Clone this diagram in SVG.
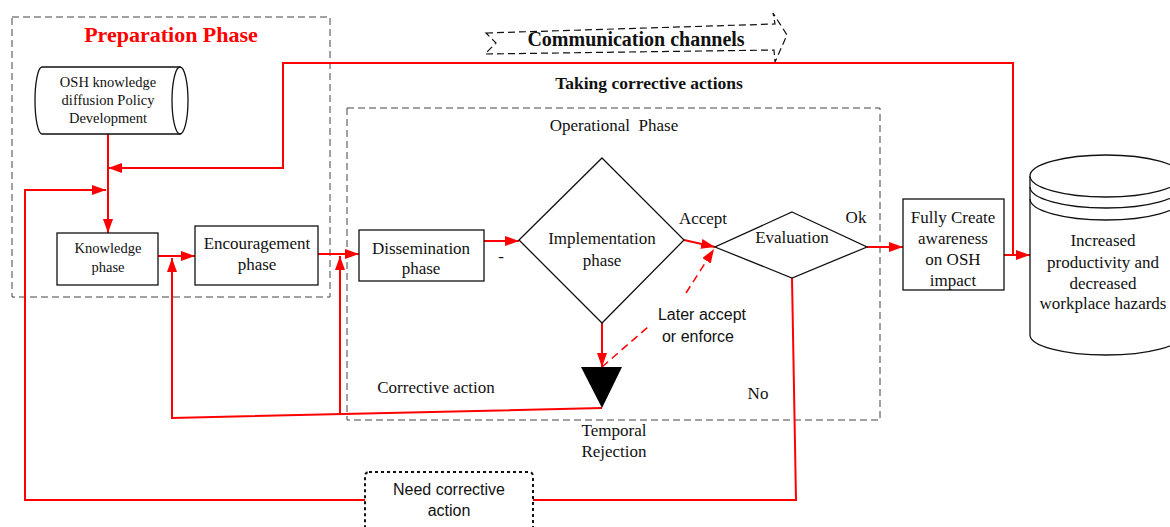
<svg xmlns="http://www.w3.org/2000/svg" width="1170" height="527" viewBox="0 0 1170 527">
<style>
.t{font-family:"Liberation Serif","Times New Roman",serif;font-size:17px;fill:#111;text-anchor:middle}
.s{font-family:"Liberation Sans",Arial,sans-serif;font-size:16px;fill:#111;text-anchor:middle}
.b{font-weight:bold}
.box{fill:#fff;stroke:#111;stroke-width:1.3}
.zone{fill:none;stroke:#444;stroke-width:1;stroke-dasharray:7 4}
.r{fill:none;stroke:#f00;stroke-width:2}
.rd{fill:none;stroke:#f00;stroke-width:1.5;stroke-dasharray:8 5}
</style>
<defs>
<marker id="ah" viewBox="0 0 14 10" refX="14" refY="5" markerWidth="14" markerHeight="10" orient="auto" markerUnits="userSpaceOnUse">
<path d="M0,0 L14,5 L0,10 z" fill="#f00"/>
</marker>
</defs>
<rect width="1170" height="527" fill="#fff"/>

<g id="zones">
<rect class="zone" x="12" y="17" width="318" height="280"/>
<rect class="zone" x="347" y="108" width="533" height="312"/>
</g>

<g id="titles">
<text class="t b" x="171" y="42" style="font-size:22px;fill:#f00">Preparation Phase</text>
<text class="t b" x="649" y="89" style="font-size:17.5px">Taking corrective actions</text>
<text class="t" x="614" y="131">Operational&#160; Phase</text>
</g>

<g id="comm">
<polygon points="486,33 775,24 773,13 787,35 775,62 774,50 485,54 496,43" fill="none" stroke="#111" stroke-width="1.2" stroke-dasharray="7 4"/>
<text class="t b" x="636" y="46" style="font-size:20px">Communication channels</text>
</g>

<g id="connectors">
<path class="r" d="M108,134 V233" marker-end="url(#ah)"/>
<path class="r" d="M1013,255 V63 H283 V168 H108" marker-end="url(#ah)"/>
<path class="r" d="M1004,255 H1030" marker-end="url(#ah)"/>
<path class="r" d="M365,500 H25 V190 H106" marker-end="url(#ah)"/>
<path class="r" d="M533,500 H796 L792,278"/>
<path class="r" d="M158,256 H195" marker-end="url(#ah)"/>
<path class="r" d="M602,408 L172,418 V258" marker-end="url(#ah)"/>
<path class="r" d="M340,414 V256" marker-end="url(#ah)"/>
<path class="r" d="M318,254 H359" marker-end="url(#ah)"/>
<path class="r" d="M484,241 H519" marker-end="url(#ah)"/>
<path class="r" d="M684,240 L715,247" marker-end="url(#ah)"/>
<path class="r" d="M867,247 H903" marker-end="url(#ah)"/>
<path class="r" d="M602,323 V367" marker-end="url(#ah)"/>
<path class="rd" d="M602,367 L648,327"/>
<path class="rd" d="M686,293 L714,249" marker-end="url(#ah)"/>
</g>

<g id="osh-policy">
<path d="M42,67 H180 V134 H42 A7,33.5 0 0 1 42,67 Z" class="box"/>
<ellipse cx="180" cy="100.5" rx="8" ry="33.5" class="box"/>
<text class="t" x="108" y="87" style="font-size:14.5px">OSH knowledge</text>
<text class="t" x="108" y="105" style="font-size:14.5px">diffusion Policy</text>
<text class="t" x="108" y="123" style="font-size:14.5px">Development</text>
</g>

<g id="knowledge">
<rect class="box" x="57" y="233" width="101" height="52"/>
<text class="t" x="108" y="253" style="font-size:14.5px">Knowledge</text>
<text class="t" x="108" y="272" style="font-size:14.5px">phase</text>
</g>

<g id="encouragement">
<rect class="box" x="195" y="226" width="123" height="59"/>
<text class="t" x="257" y="249">Encouragement</text>
<text class="t" x="257" y="270">phase</text>
</g>

<g id="dissemination">
<rect class="box" x="359" y="230" width="125" height="51"/>
<text class="t" x="421" y="254">Dissemination</text>
<text class="t" x="421" y="274">phase</text>
<text class="t" x="501" y="262">-</text>
</g>

<g id="implementation">
<polygon class="box" points="602,158 684,240 602,323 519,240"/>
<text class="t" x="602" y="244">Implementation</text>
<text class="t" x="602" y="266">phase</text>
<text class="t" x="703" y="224">Accept</text>
</g>

<g id="evaluation">
<polygon class="box" points="792,212 867,247 792,278 715,247"/>
<text class="t" x="792" y="243">Evaluation</text>
<text class="t" x="856" y="223">Ok</text>
<text class="t" x="758" y="399">No</text>
</g>

<g id="temporal-rejection">
<polygon points="581,367 622,367 602,408" fill="#000"/>
<text class="t" x="614" y="436">Temporal</text>
<text class="t" x="614" y="457">Rejection</text>
<text class="t" x="436" y="393">Corrective action</text>
</g>

<g id="later-accept">
<text class="s" x="702" y="320">Later accept</text>
<text class="s" x="698" y="342">or enforce</text>
</g>

<g id="awareness">
<rect class="box" x="903" y="199" width="101" height="91"/>
<text class="t" x="953" y="223">Fully Create</text>
<text class="t" x="953" y="244">awareness</text>
<text class="t" x="953" y="265">on OSH</text>
<text class="t" x="953" y="286">impact</text>
</g>

<g id="outcome">
<path class="box" d="M1030,176 V335 A76,20 0 0 0 1182,335 V176"/>
<ellipse class="box" cx="1106" cy="176" rx="76" ry="21"/>
<path class="box" style="fill:none" d="M1030,187 A76,21 0 0 0 1182,187 M1030,199 A76,21 0 0 0 1182,199"/>
<text class="t" x="1103" y="246">Increased</text>
<text class="t" x="1103" y="268">productivity and</text>
<text class="t" x="1103" y="289">decreased</text>
<text class="t" x="1103" y="309">workplace hazards</text>
</g>

<g id="need-corrective">
<rect x="365" y="472" width="168" height="72" rx="4" fill="#fff" stroke="#111" stroke-width="2" stroke-dasharray="3 3"/>
<text class="s" x="449" y="495">Need corrective</text>
<text class="s" x="449" y="516">action</text>
</g>
</svg>
